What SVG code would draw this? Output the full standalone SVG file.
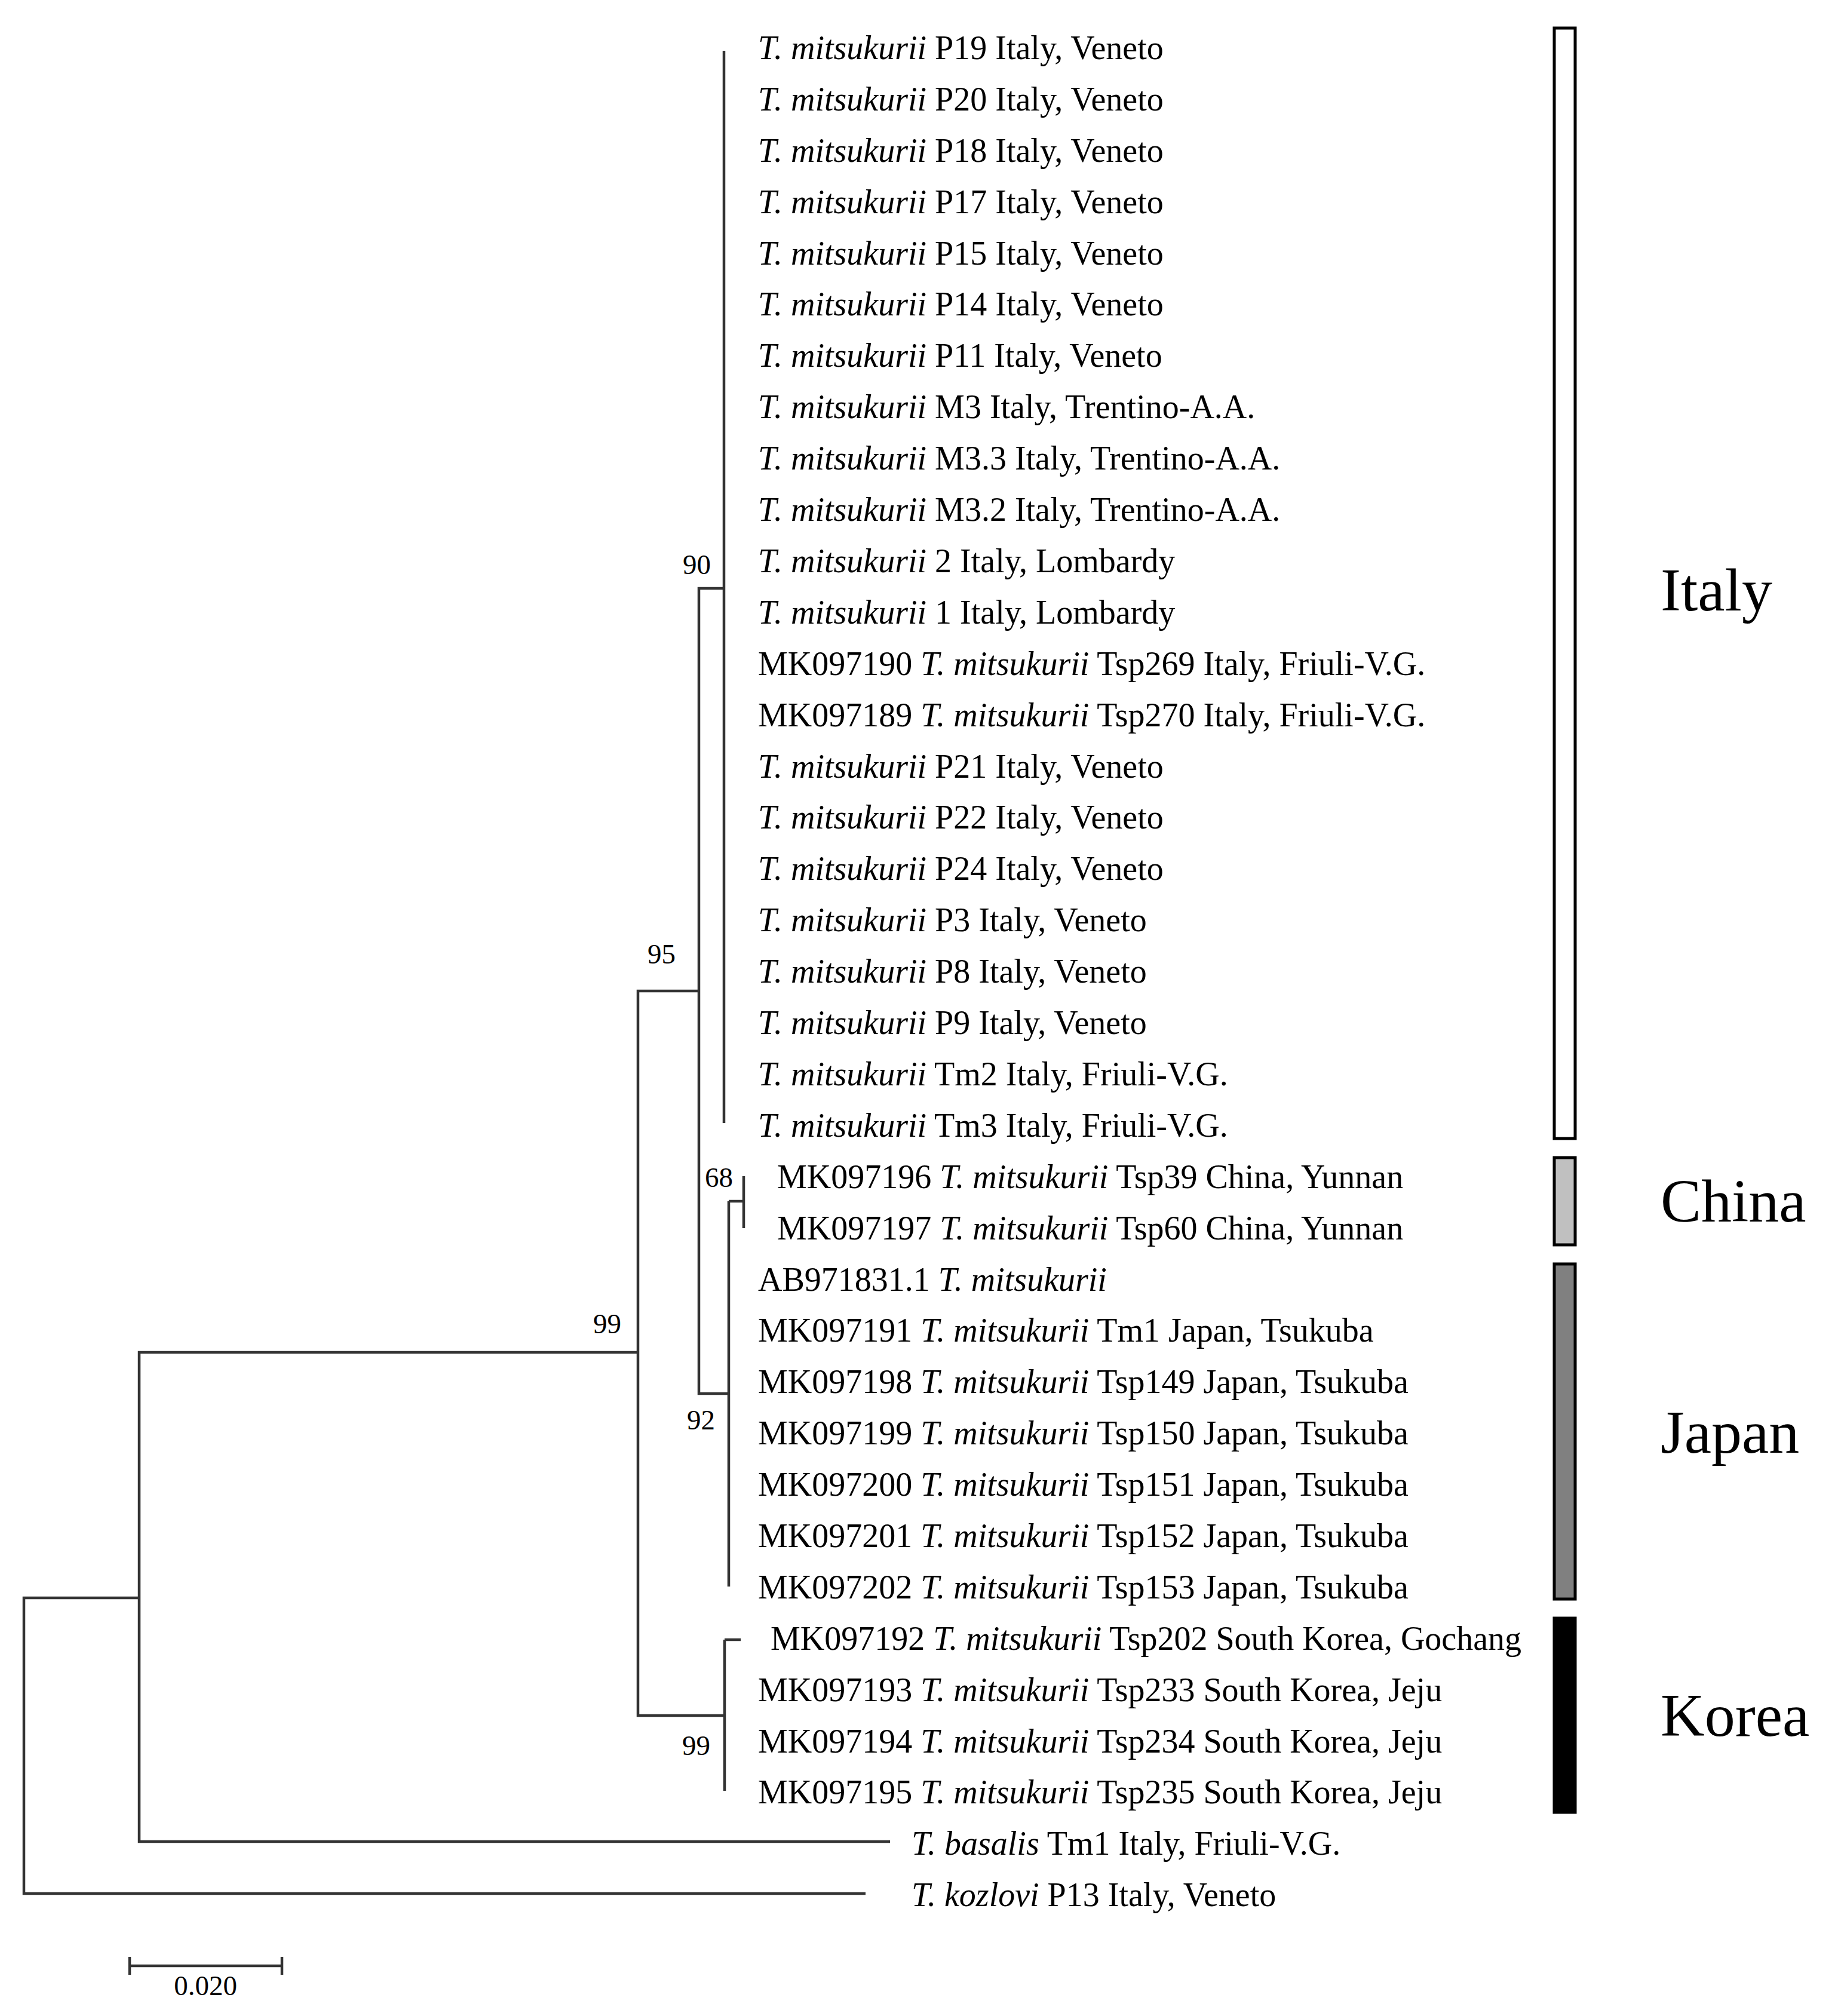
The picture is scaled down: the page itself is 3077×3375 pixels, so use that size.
<svg xmlns="http://www.w3.org/2000/svg" width="3077" height="3375" viewBox="0 0 3077 3375">
<style>
text{font-family:"Liberation Serif","Times New Roman",serif;fill:#000}
.t{font-size:56px}
.b{font-size:47px}
.g{font-size:102px}
.c path,.c line{stroke:#333;stroke-width:4.5;fill:none}
</style>
<rect width="3077" height="3375" fill="#fff"/>
<g id="connectors" class="c">
<line x1="1212" y1="85" x2="1212" y2="1880"/>
<path d="M1212 985 H1170 V2333 H1220"/>
<path d="M1220 2011 V2656"/>
<path d="M1220 2011 H1245 M1245 1969 V2056"/>
<path d="M1170 1659 H1068 V2872 H1213"/>
<path d="M1213 2745 V2998 M1213 2745 H1240"/>
<path d="M1068 2264 H233 V3083 H1490"/>
<path d="M233 2675 H40 V3170 H1449"/>
<path d="M217 3291 H472 M217 3276 V3306 M472 3276 V3306"/>
</g>
<g id="support">
<text class="b" x="1143" y="961">90</text>
<text class="b" x="1084" y="1613">95</text>
<text class="b" x="1180" y="1987">68</text>
<text class="b" x="1150" y="2393">92</text>
<text class="b" x="993" y="2232">99</text>
<text class="b" x="1142" y="2938">99</text>
<text class="b" x="344" y="3340" text-anchor="middle">0.020</text>
</g>
<g id="tips" class="t">
<text x="1269" y="99"><tspan font-style="italic">T. mitsukurii</tspan> P19 Italy, Veneto</text>
<text x="1269" y="185"><tspan font-style="italic">T. mitsukurii</tspan> P20 Italy, Veneto</text>
<text x="1269" y="271"><tspan font-style="italic">T. mitsukurii</tspan> P18 Italy, Veneto</text>
<text x="1269" y="357"><tspan font-style="italic">T. mitsukurii</tspan> P17 Italy, Veneto</text>
<text x="1269" y="443"><tspan font-style="italic">T. mitsukurii</tspan> P15 Italy, Veneto</text>
<text x="1269" y="528"><tspan font-style="italic">T. mitsukurii</tspan> P14 Italy, Veneto</text>
<text x="1269" y="614"><tspan font-style="italic">T. mitsukurii</tspan> P11 Italy, Veneto</text>
<text x="1269" y="700"><tspan font-style="italic">T. mitsukurii</tspan> M3 Italy, Trentino-A.A.</text>
<text x="1269" y="786"><tspan font-style="italic">T. mitsukurii</tspan> M3.3 Italy, Trentino-A.A.</text>
<text x="1269" y="872"><tspan font-style="italic">T. mitsukurii</tspan> M3.2 Italy, Trentino-A.A.</text>
<text x="1269" y="958"><tspan font-style="italic">T. mitsukurii</tspan> 2 Italy, Lombardy</text>
<text x="1269" y="1044"><tspan font-style="italic">T. mitsukurii</tspan> 1 Italy, Lombardy</text>
<text x="1269" y="1130">MK097190 <tspan font-style="italic">T. mitsukurii</tspan> Tsp269 Italy, Friuli-V.G.</text>
<text x="1269" y="1216">MK097189 <tspan font-style="italic">T. mitsukurii</tspan> Tsp270 Italy, Friuli-V.G.</text>
<text x="1269" y="1302"><tspan font-style="italic">T. mitsukurii</tspan> P21 Italy, Veneto</text>
<text x="1269" y="1387"><tspan font-style="italic">T. mitsukurii</tspan> P22 Italy, Veneto</text>
<text x="1269" y="1473"><tspan font-style="italic">T. mitsukurii</tspan> P24 Italy, Veneto</text>
<text x="1269" y="1559"><tspan font-style="italic">T. mitsukurii</tspan> P3 Italy, Veneto</text>
<text x="1269" y="1645"><tspan font-style="italic">T. mitsukurii</tspan> P8 Italy, Veneto</text>
<text x="1269" y="1731"><tspan font-style="italic">T. mitsukurii</tspan> P9 Italy, Veneto</text>
<text x="1269" y="1817"><tspan font-style="italic">T. mitsukurii</tspan> Tm2 Italy, Friuli-V.G.</text>
<text x="1269" y="1903"><tspan font-style="italic">T. mitsukurii</tspan> Tm3 Italy, Friuli-V.G.</text>
<text x="1301" y="1989">MK097196 <tspan font-style="italic">T. mitsukurii</tspan> Tsp39 China, Yunnan</text>
<text x="1301" y="2075">MK097197 <tspan font-style="italic">T. mitsukurii</tspan> Tsp60 China, Yunnan</text>
<text x="1269" y="2161">AB971831.1 <tspan font-style="italic">T. mitsukurii</tspan></text>
<text x="1269" y="2246">MK097191 <tspan font-style="italic">T. mitsukurii</tspan> Tm1 Japan, Tsukuba</text>
<text x="1269" y="2332">MK097198 <tspan font-style="italic">T. mitsukurii</tspan> Tsp149 Japan, Tsukuba</text>
<text x="1269" y="2418">MK097199 <tspan font-style="italic">T. mitsukurii</tspan> Tsp150 Japan, Tsukuba</text>
<text x="1269" y="2504">MK097200 <tspan font-style="italic">T. mitsukurii</tspan> Tsp151 Japan, Tsukuba</text>
<text x="1269" y="2590">MK097201 <tspan font-style="italic">T. mitsukurii</tspan> Tsp152 Japan, Tsukuba</text>
<text x="1269" y="2676">MK097202 <tspan font-style="italic">T. mitsukurii</tspan> Tsp153 Japan, Tsukuba</text>
<text x="1290" y="2762">MK097192 <tspan font-style="italic">T. mitsukurii</tspan> Tsp202 South Korea, Gochang</text>
<text x="1269" y="2848">MK097193 <tspan font-style="italic">T. mitsukurii</tspan> Tsp233 South Korea, Jeju</text>
<text x="1269" y="2934">MK097194 <tspan font-style="italic">T. mitsukurii</tspan> Tsp234 South Korea, Jeju</text>
<text x="1269" y="3019">MK097195 <tspan font-style="italic">T. mitsukurii</tspan> Tsp235 South Korea, Jeju</text>
<text x="1526" y="3105"><tspan font-style="italic">T. basalis</tspan> Tm1 Italy, Friuli-V.G.</text>
<text x="1526" y="3191"><tspan font-style="italic">T. kozlovi</tspan> P13 Italy, Veneto</text>
</g>
<g id="italy"><rect x="2602" y="47" width="35" height="1859" fill="#fff" stroke="#000" stroke-width="5"/><text class="g" x="2780" y="1022">Italy</text></g>
<g id="china"><rect x="2602" y="1938" width="35" height="146" fill="#c0c0c0" stroke="#000" stroke-width="5"/><text class="g" x="2780" y="2045">China</text></g>
<g id="japan"><rect x="2602" y="2116" width="35" height="561" fill="#808080" stroke="#000" stroke-width="5"/><text class="g" x="2780" y="2432">Japan</text></g>
<g id="korea"><rect x="2602" y="2709" width="35" height="325" fill="#000" stroke="#000" stroke-width="5"/><text class="g" x="2780" y="2906">Korea</text></g>
</svg>
